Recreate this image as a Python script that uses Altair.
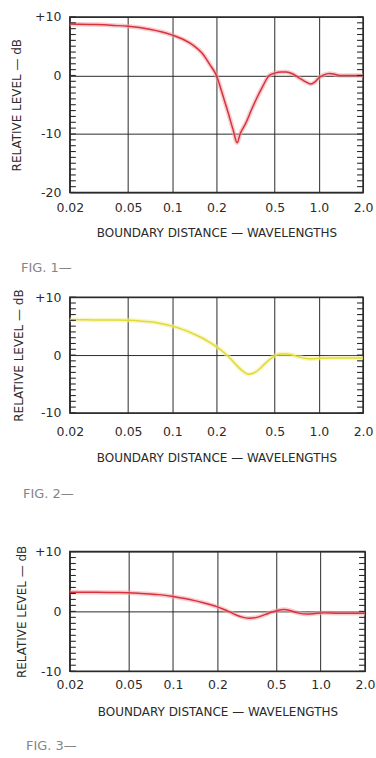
import altair as alt
import pandas as pd

# ---------------- data ----------------
X_TICKS = [0.02, 0.05, 0.1, 0.2, 0.5, 1.0, 2.0]
X_DOMAIN = [0.02, 2.0]

fig1_x = [0.02, 0.03, 0.04, 0.05, 0.07, 0.1, 0.12, 0.14, 0.16, 0.18, 0.2, 0.22, 0.24, 0.26,
          0.277, 0.29, 0.318, 0.345, 0.373, 0.413, 0.458, 0.5, 0.55, 0.6, 0.66, 0.73, 0.8,
          0.88, 0.94, 1.0, 1.08, 1.18, 1.28, 1.38, 2.0]
fig1_y = [8.8, 8.7, 8.55, 8.4, 7.9, 6.9, 6.1, 5.1, 3.8, 1.9, 0.0, -3.2, -6.3, -9.3,
          -11.5, -10.0, -8.1, -6.0, -4.1, -1.9, 0.0, 0.4, 0.6, 0.6, 0.3, -0.4, -1.0,
          -1.45, -1.1, -0.4, 0.1, 0.35, 0.2, 0.0, 0.0]

fig2_x = [0.02, 0.03, 0.04, 0.05, 0.06, 0.07, 0.08, 0.1, 0.12, 0.14, 0.16, 0.18, 0.2, 0.22,
          0.24, 0.26, 0.28, 0.3, 0.33, 0.36, 0.39, 0.42, 0.46, 0.5, 0.55, 0.6, 0.65, 0.72,
          0.8, 0.9, 1.0, 1.2, 1.5, 2.0]
fig2_y = [6.1, 6.08, 6.05, 6.0, 5.9, 5.75, 5.55, 5.0, 4.35, 3.65, 2.95, 2.2, 1.45, 0.65,
          -0.2, -1.1, -2.0, -2.7, -3.3, -3.1, -2.5, -1.7, -0.8, -0.1, 0.2, 0.2, 0.05, -0.25,
          -0.55, -0.65, -0.55, -0.5, -0.5, -0.5]

fig3_x = [0.02, 0.03, 0.04, 0.05, 0.06, 0.07, 0.08, 0.1, 0.12, 0.14, 0.16, 0.18, 0.2, 0.22,
          0.24, 0.27, 0.3, 0.33, 0.37, 0.42, 0.47, 0.52, 0.56, 0.62, 0.7, 0.8, 0.88, 0.95,
          1.05, 1.3, 2.0]
fig3_y = [3.2, 3.2, 3.15, 3.1, 3.0, 2.9, 2.8, 2.5, 2.15, 1.8, 1.45, 1.1, 0.75, 0.35,
          -0.05, -0.65, -1.0, -1.15, -1.0, -0.55, -0.1, 0.2, 0.3, 0.15, -0.25, -0.45, -0.4,
          -0.3, -0.25, -0.3, -0.3]

fig1_yticks = [-20, -10, 0, 10]
fig23_yticks = [-10, 0, 10]
fig1_minor = list(range(-20, 11))
fig23_minor = list(range(-10, 11))

X_TITLE = "BOUNDARY DISTANCE — WAVELENGTHS"
Y_TITLE = "RELATIVE LEVEL — dB"

RED = "#d8323c"
RED_HALO = "#f3a2a8"
YEL = "#e2da36"
YEL_HALO = "#f2ee9c"
INK = "#2a2a2a"


def panel(xs, ys, core, halo, ydom, yticks, minor, w, h, extent, xlabpad, xtitlepad,
          fig_text, fig_offset):
    df = pd.DataFrame({"dist": xs, "level": ys})
    mdf = pd.DataFrame({"level": minor})
    xscale = alt.Scale(type="log", domain=X_DOMAIN, nice=False)
    yscale = alt.Scale(domain=ydom, nice=False, zero=False)
    xax = alt.Axis(values=X_TICKS, grid=True, ticks=False, domain=False,
                   labelExpr="datum.value >= 1 ? format(datum.value, '.1f') : format(datum.value, '~g')",
                   labelPadding=xlabpad, titlePadding=xtitlepad, title=X_TITLE,
                   labelFontSize=12.5, titleFontSize=12, labelFlush=False)
    yax = alt.Axis(values=yticks, grid=True, ticks=False, domain=False,
                   labelExpr="datum.value > 0 ? '+' + datum.value : '' + datum.value",
                   labelPadding=9, titlePadding=15, title=Y_TITLE,
                   labelFontSize=12.5, titleFontSize=12, minExtent=extent, maxExtent=extent)
    base = alt.Chart(df).encode(
        x=alt.X("dist:Q", scale=xscale, axis=xax),
        y=alt.Y("level:Q", scale=yscale, axis=yax),
    )
    glow = base.mark_line(color=halo, strokeWidth=4.5, opacity=0.55, interpolate="monotone")
    line = base.mark_line(color=core, strokeWidth=1.5, interpolate="monotone")
    left_ticks = alt.Chart(mdf).mark_tick(orient="horizontal", size=6, thickness=1.1,
                                          color=INK, xOffset=3, opacity=1).encode(
        x=alt.datum(X_DOMAIN[0]), y=alt.Y("level:Q"))
    right_ticks = alt.Chart(mdf).mark_tick(orient="horizontal", size=6, thickness=1.1,
                                           color=INK, xOffset=-3, opacity=1).encode(
        x=alt.datum(X_DOMAIN[1]), y=alt.Y("level:Q"))
    return alt.layer(glow, line, left_ticks, right_ticks).properties(
        width=w, height=h,
        title=alt.TitleParams(text=fig_text, orient="bottom", anchor="start", frame="bounds",
                              dx=10, offset=fig_offset, font="DejaVu Sans", fontSize=13,
                              fontWeight="normal", color="#858585"),
    )


p1 = panel(fig1_x, fig1_y, RED, RED_HALO, [-20, 10], fig1_yticks, fig1_minor,
           294, 176, 31, 9, 14, "FIG. 1—", 23)
p2 = panel(fig2_x, fig2_y, YEL, YEL_HALO, [-10, 10], fig23_yticks, fig23_minor,
           294, 116, 29, 13, 14, "FIG. 2—", 25)
p3 = panel(fig3_x, fig3_y, RED, RED_HALO, [-10, 10], fig23_yticks, fig23_minor,
           296, 120, 26, 7, 16, "FIG. 3—", 22)

top = alt.vconcat(p1, p2, spacing=11)
chart = alt.vconcat(top, p3, spacing=41).properties(
    padding={"left": 10, "top": 9, "right": 0, "bottom": 0},
    background="white",
).configure_view(
    stroke=INK, strokeWidth=1.5
).configure_axis(
    labelFont="DejaVu Sans", titleFont="DejaVu Sans", labelColor=INK, titleColor=INK,
    titleFontWeight="normal", gridColor=INK, gridWidth=1, gridOpacity=1,
)

chart.save("out.html", embed_options={"renderer": "svg", "actions": False})
